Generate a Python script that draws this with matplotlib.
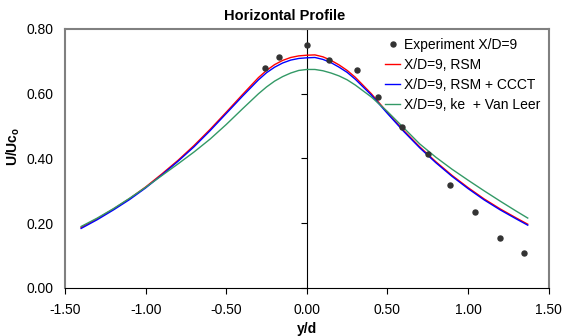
import matplotlib.pyplot as plt
import numpy as np

plt.rcParams['font.family'] = ['Liberation Sans', 'DejaVu Sans']
plt.rcParams['mathtext.fontset'] = 'custom'
plt.rcParams['mathtext.rm'] = 'Liberation Sans'
plt.rcParams['mathtext.bf'] = 'Liberation Sans:bold'

# experiment, X/D=9
exp_x = [-0.26, -0.17, 0.00, 0.14, 0.31, 0.44, 0.59, 0.75, 0.89, 1.04, 1.20, 1.35]
exp_y = [0.679, 0.712, 0.751, 0.703, 0.674, 0.591, 0.497, 0.413, 0.318, 0.234, 0.154, 0.108]

# computed profiles
y_d = [-1.40, -1.30, -1.20, -1.10, -1.00, -0.90, -0.80, -0.70, -0.60, -0.50,
       -0.40, -0.30, -0.25, -0.20, -0.15, -0.10, -0.05, 0.00, 0.05, 0.10,
       0.15, 0.20, 0.25, 0.30, 0.40, 0.50, 0.60, 0.70, 0.80, 0.90,
       1.00, 1.10, 1.20, 1.30, 1.37]
rsm = [0.187, 0.214, 0.244, 0.276, 0.312, 0.352, 0.394, 0.440, 0.490, 0.543,
       0.597, 0.650, 0.672, 0.690, 0.703, 0.712, 0.717, 0.719, 0.720, 0.714,
       0.703, 0.689, 0.672, 0.651, 0.600, 0.542, 0.487, 0.436, 0.390, 0.348,
       0.310, 0.275, 0.244, 0.216, 0.197]
rsm_ccct = [0.184, 0.211, 0.241, 0.273, 0.309, 0.349, 0.391, 0.436, 0.486, 0.539,
            0.592, 0.643, 0.665, 0.682, 0.695, 0.704, 0.709, 0.711, 0.712, 0.706,
            0.696, 0.682, 0.666, 0.645, 0.596, 0.539, 0.484, 0.433, 0.387, 0.345,
            0.307, 0.272, 0.241, 0.213, 0.194]
ke_vl = [0.190, 0.216, 0.245, 0.277, 0.311, 0.347, 0.383, 0.420, 0.460, 0.505,
         0.553, 0.600, 0.621, 0.639, 0.653, 0.664, 0.672, 0.675, 0.675, 0.671,
         0.664, 0.655, 0.643, 0.627, 0.590, 0.545, 0.495, 0.445, 0.404, 0.367,
         0.333, 0.300, 0.268, 0.237, 0.216]

labels = ['Experiment X/D=9', 'X/D=9, RSM', 'X/D=9, RSM + CCCT', 'X/D=9, ke  + Van Leer']

fig = plt.figure(figsize=(5.62, 3.36), dpi=100)
ax = fig.add_axes([0.1157, 0.1429, 0.8606, 0.7708])

ax.plot(exp_x, exp_y, 'o', color='#333333', markersize=3.6, label=labels[0], zorder=5)
ax.plot(y_d, rsm, color='#ff0000', lw=1.0, label=labels[1])
ax.plot(y_d, rsm_ccct, color='#0000ff', lw=1.0, label=labels[2])
ax.plot(y_d, ke_vl, color='#339966', lw=1.0, label=labels[3])

ax.set_xlim(-1.5, 1.5)
ax.set_ylim(0, 0.8)
ax.set_xticks(np.arange(-1.5, 1.51, 0.5))
ax.set_yticks(np.arange(0, 0.81, 0.2))
ax.xaxis.set_major_formatter(plt.FormatStrFormatter('%.2f'))
ax.yaxis.set_major_formatter(plt.FormatStrFormatter('%.2f'))
ax.tick_params(axis='x', length=4, width=0.8, pad=6.5, labelsize=10, color='black')
ax.tick_params(axis='y', length=0, pad=8.5, labelsize=10)

for s in ['left', 'top', 'right']:
    ax.spines[s].set_color('#808080')
    ax.spines[s].set_linewidth(1.5)
ax.spines['bottom'].set_color('black')
ax.spines['bottom'].set_linewidth(0.8)

# y axis crossing at x=0
sec = ax.secondary_yaxis(0.5)
sec.set_yticks(np.arange(0, 0.81, 0.2))
sec.yaxis.set_ticks_position('left')
sec.tick_params(axis='y', length=4, width=0.8, color='black', labelleft=False, labelright=False)
sec.spines['left'].set_color('black')
sec.spines['left'].set_linewidth(0.8)

ax.set_xlabel('y/d', fontsize=10, fontweight='bold', labelpad=4)
ax.set_ylabel(r'U/Uc$_\mathbf{o}$', fontsize=10, fontweight='bold')
ax.yaxis.set_label_coords(-0.088, 0.548)
fig.text(0.507, 1 - 16 / 336, 'Horizontal Profile', ha='center', va='center',
         fontsize=10.5, fontweight='bold')

ax.legend(loc='upper left', bbox_to_anchor=(0.6616, 0.965), frameon=False,
          fontsize=10, borderpad=0, borderaxespad=0, handlelength=1.08,
          handletextpad=0.3, labelspacing=0.42, markerscale=1)

fig.savefig('out.png', dpi=100)
